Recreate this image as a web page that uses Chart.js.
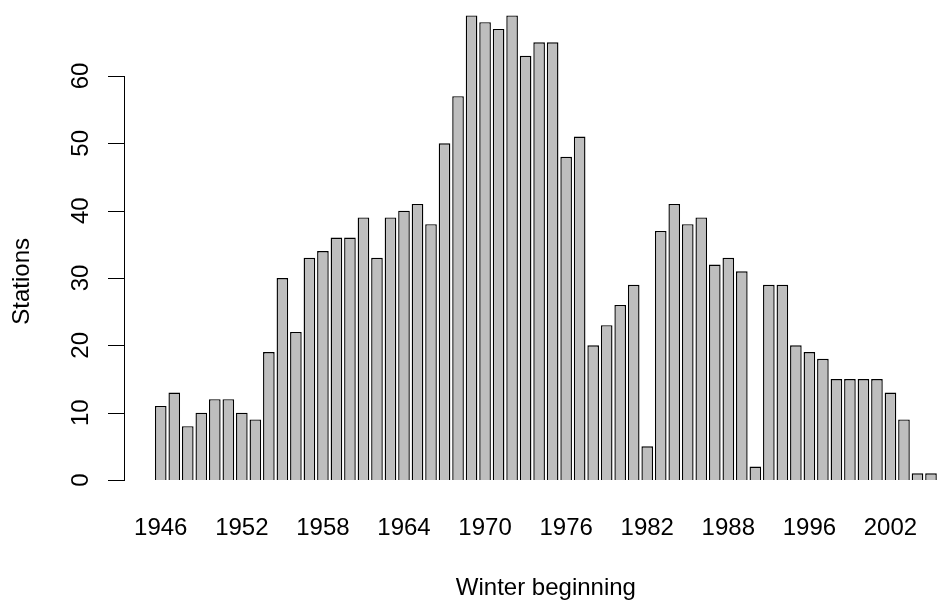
<!DOCTYPE html>
<html>
<head>
<meta charset="utf-8">
<script src="https://cdn.jsdelivr.net/npm/chart.js@4.4.0/dist/chart.umd.min.js"></script>
<style>
  html, body { margin: 0; padding: 0; background: #ffffff; }
  canvas { display: block; }
</style>
</head>
<body>
<canvas id="stationsChart" width="946" height="607"></canvas>
<script>
// winters (two years missing after 1988)
const years = [
  1946, 1947, 1948, 1949, 1950, 1951, 1952, 1953, 1954, 1955,
  1956, 1957, 1958, 1959, 1960, 1961, 1962, 1963, 1964, 1965,
  1966, 1967, 1968, 1969, 1970, 1971, 1972, 1973, 1974, 1975,
  1976, 1977, 1978, 1979, 1980, 1981, 1982, 1983, 1984, 1985,
  1986, 1987, 1988, 1991, 1992, 1993, 1994, 1995, 1996, 1997,
  1998, 1999, 2000, 2001, 2002, 2003, 2004, 2005,
];
const stations = [
  11, 13, 8, 10, 12, 12, 10, 9, 19, 30,
  22, 33, 34, 36, 36, 39, 33, 39, 40, 41,
  38, 50, 57, 69, 68, 67, 69, 63, 65, 65,
  48, 51, 20, 23, 26, 29, 5, 37, 41, 38,
  39, 32, 33, 31, 2, 29, 29, 20, 19, 18,
  15, 15, 15, 15, 13, 9, 1, 1,
];
const yTicks = [0, 10, 20, 30, 40, 50, 60];
const labelEvery = 6;

const FONT = "'Liberation Sans', Arial, Helvetica, sans-serif";

// R-style left axis: line only over the tick range, rotated labels
const rAxisPlugin = {
  id: "rAxis",
  afterDraw(chart) {
    const ctx = chart.ctx;
    const y = chart.scales.y;
    const axisX = 124;
    ctx.save();
    ctx.strokeStyle = "#000000";
    ctx.lineWidth = 1;
    ctx.beginPath();
    ctx.moveTo(axisX + 0.5, y.getPixelForValue(yTicks[0]));
    ctx.lineTo(axisX + 0.5, y.getPixelForValue(yTicks[yTicks.length - 1]));
    yTicks.forEach(function (v) {
      const py = Math.round(y.getPixelForValue(v)) + 0.5;
      ctx.moveTo(108, py);
      ctx.lineTo(axisX + 1, py);
    });
    ctx.stroke();

    ctx.fillStyle = "#000000";
    ctx.font = "24px " + FONT;
    ctx.textAlign = "center";
    ctx.textBaseline = "middle";
    yTicks.forEach(function (v) {
      ctx.save();
      ctx.translate(81, y.getPixelForValue(v));
      ctx.rotate(-Math.PI / 2);
      ctx.fillText(String(v), 0, 0);
      ctx.restore();
    });

    // axis title sits mid-way along the 0..60 range, like R's plot region
    ctx.save();
    ctx.translate(22, y.getPixelForValue(29.5));
    ctx.rotate(-Math.PI / 2);
    ctx.fillText("Stations", 0, 0);
    ctx.restore();
    ctx.restore();
  },
};

function initializeChart() {
  const ctx = document.getElementById("stationsChart").getContext("2d");
  new Chart(ctx, {
    type: "bar",
    data: {
      labels: years.map(String),
      datasets: [
        {
          label: "Stations",
          data: stations,
          backgroundColor: "#bebebe",
          borderColor: "#000000",
          borderWidth: 1.4,
          barPercentage: 0.86,
          categoryPercentage: 1.0,
        },
      ],
    },
    options: {
      responsive: false,
      animation: false,
      layout: { padding: { left: 0, right: 0, top: 0, bottom: 0 } },
      scales: {
        x: {
          grid: { display: false, drawTicks: false },
          border: { display: false },
          ticks: {
            autoSkip: false,
            maxRotation: 0,
            minRotation: 0,
            padding: 15,
            color: "#000000",
            font: { family: FONT, size: 24 },
            callback: function (value, index) {
              return index % labelEvery === 0 ? this.getLabelForValue(value) : "";
            },
          },
          title: {
            display: true,
            text: "Winter beginning",
            color: "#000000",
            font: { family: FONT, size: 24 },
            padding: { top: 0, bottom: 4 },
          },
          afterFit: function (scale) {
            scale.height = 108.4;
          },
        },
        y: {
          min: -2.76,
          max: 71.29,
          grid: { display: false, drawTicks: false },
          border: { display: false },
          ticks: { display: false },
          afterFit: function (scale) {
            scale.width = 154;
          },
        },
      },
      plugins: {
        legend: { display: false },
        tooltip: { enabled: false },
        title: { display: false },
      },
    },
    plugins: [rAxisPlugin],
  });
}

if (document.readyState === "loading") {
  document.addEventListener("DOMContentLoaded", initializeChart);
} else {
  initializeChart();
}
</script>
</body>
</html>
